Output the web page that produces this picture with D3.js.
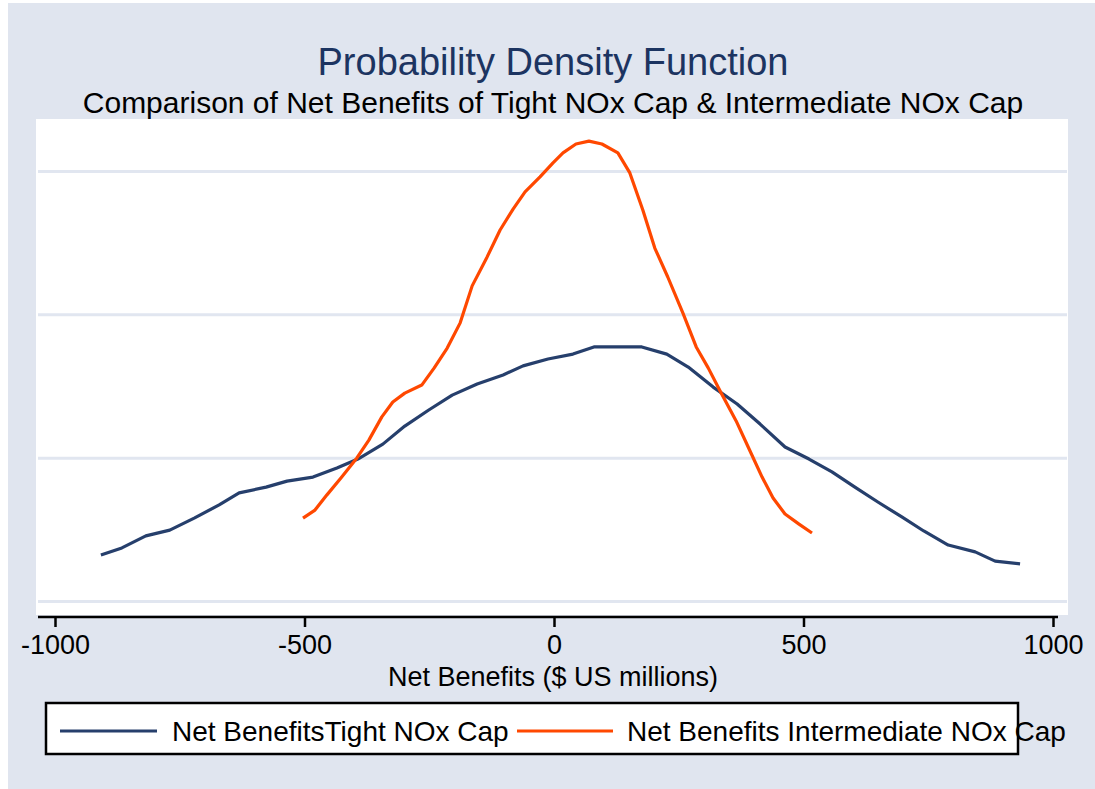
<!DOCTYPE html>
<html lang="en">
<head>
<meta charset="utf-8">
<script src="https://d3js.org/d3.v7.min.js"></script>
<style>
  body { margin: 0; background: #fff; }
  svg { font-family: "Liberation Sans", Arial, sans-serif; }
</style>
</head>
<body>
<div id="chart"></div>
<script>
// kernel density estimates (x in $ US millions, density)
var tightX = [-908, -866, -818, -770, -721, -671, -631, -577, -535, -483,
              -435, -393, -343, -299, -251, -204, -154, -102, -62, -12,
              38, 80, 132, 176, 226, 269, 319, 367, 413, 463,
              511, 557, 603, 649, 697, 741, 790, 844, 884, 934];
var tightY = [0.000162, 0.000187, 0.000229, 0.000249, 0.000291, 0.000337, 0.000379, 0.000399, 0.000420, 0.000434,
              0.000466, 0.000497, 0.000549, 0.000612, 0.000668, 0.000720, 0.000759, 0.000790, 0.000822, 0.000846,
              0.000863, 0.000888, 0.000888, 0.000888, 0.000863, 0.000818, 0.000748, 0.000689, 0.000619, 0.000539,
              0.000497, 0.000452, 0.000399, 0.000347, 0.000295, 0.000246, 0.000197, 0.000173, 0.000141, 0.000131];

var interX = [-503, -479, -455, -427, -395, -371, -345, -323, -299, -265,
              -240, -214, -188, -164, -134, -108, -82, -58, -28, -2,
              18, 44, 70, 96, 128, 152, 178, 202, 228, 259,
              285, 309, 335, 365, 391, 417, 439, 463, 491, 517];
var interY = [0.000291, 0.000319, 0.000372, 0.000431, 0.000501, 0.000563, 0.000644, 0.000696, 0.000727, 0.000755,
              0.000815, 0.000884, 0.000972, 0.001101, 0.001202, 0.001296, 0.001369, 0.001429, 0.001481, 0.001530,
              0.001565, 0.001596, 0.001606, 0.001596, 0.001565, 0.001495, 0.001366, 0.001233, 0.001132, 0.001003,
              0.000888, 0.000815, 0.000727, 0.000630, 0.000532, 0.000434, 0.000361, 0.000305, 0.000270, 0.000239];

var xTicks = [-1000, -500, 0, 500, 1000];
var yGrid = [0, 0.0005, 0.001, 0.0015];
var seriesNames = ["Net BenefitsTight NOx Cap", "Net Benefits Intermediate NOx Cap"];
var seriesColors = ["#263f6c", "#ff4800"];

var W = 1095, H = 789;
var svg = d3.select("#chart").append("svg")
    .attr("width", W)
    .attr("height", H);

// outer background
svg.append("rect")
    .attr("x", 8).attr("y", 3)
    .attr("width", W - 8).attr("height", H - 3)
    .attr("fill", "#e0e5ef");

// plot region
var plot = {left: 36, right: 1068, top: 119, bottom: 615};
svg.append("rect")
    .attr("x", plot.left).attr("y", plot.top)
    .attr("width", plot.right - plot.left)
    .attr("height", plot.bottom - plot.top)
    .attr("fill", "#fff");

var x = d3.scaleLinear().domain([-1000, 1000]).range([55, 1053]);
var y = d3.scaleLinear().domain([0, 0.0015]).range([601.5, 171.5]);

// grid lines
svg.append("g")
  .selectAll("line")
  .data(yGrid)
  .enter().append("line")
    .attr("x1", 38).attr("x2", 1067)
    .attr("y1", function(d) { return y(d); })
    .attr("y2", function(d) { return y(d); })
    .attr("stroke", "#e1e6f0")
    .attr("stroke-width", 3);

// x axis
var xAxis = svg.append("g")
    .attr("transform", "translate(0,617)")
    .call(d3.axisBottom(x).tickValues(xTicks).tickSize(10).tickPadding(8).tickFormat(d3.format("d")));
xAxis.select(".domain").remove();
xAxis.append("line")
    .attr("x1", 38).attr("x2", 1058)
    .attr("stroke", "#000").attr("stroke-width", 2.5);
xAxis.selectAll(".tick line").attr("stroke", "#000").attr("stroke-width", 2.5);
xAxis.selectAll(".tick text")
    .attr("fill", "#000")
    .style("font-size", "27px")
    .style("font-family", "'Liberation Sans', Arial, sans-serif")
    .text(function(d) { return d < 0 ? "-" + Math.abs(d) : d; });

// curves
var line = d3.line()
    .x(function(d) { return x(d[0]); })
    .y(function(d) { return y(d[1]); });

var series = [d3.zip(tightX, tightY), d3.zip(interX, interY)];
svg.append("g")
  .selectAll("path")
  .data(series)
  .enter().append("path")
    .attr("d", line)
    .attr("fill", "none")
    .attr("stroke", function(d, i) { return seriesColors[i]; })
    .attr("stroke-width", 3.2)
    .attr("stroke-linejoin", "round");

// titles
svg.append("text")
    .attr("x", 553).attr("y", 75)
    .attr("text-anchor", "middle")
    .attr("fill", "#1c3461")
    .style("font-size", "38px")
    .text("Probability Density Function");
svg.append("text")
    .attr("x", 553).attr("y", 113)
    .attr("text-anchor", "middle")
    .attr("fill", "#000")
    .style("font-size", "30px")
    .text("Comparison of Net Benefits of Tight NOx Cap & Intermediate NOx Cap");

// axis title
svg.append("text")
    .attr("x", 553).attr("y", 686)
    .attr("text-anchor", "middle")
    .attr("fill", "#000")
    .style("font-size", "27px")
    .text("Net Benefits ($ US millions)");

// legend
var legend = svg.append("g");
legend.append("rect")
    .attr("x", 46).attr("y", 703)
    .attr("width", 972).attr("height", 51)
    .attr("fill", "#fff")
    .attr("stroke", "#000")
    .attr("stroke-width", 2.5);
var legendX = [[60, 157, 172], [517, 613, 627]];
legendX.forEach(function(p, i) {
  legend.append("line")
      .attr("x1", p[0]).attr("x2", p[1])
      .attr("y1", 731).attr("y2", 731)
      .attr("stroke", seriesColors[i])
      .attr("stroke-width", 3);
  legend.append("text")
      .attr("x", p[2]).attr("y", 741)
      .attr("fill", "#000")
      .style("font-size", "28px")
      .text(seriesNames[i]);
});
</script>
</body>
</html>
